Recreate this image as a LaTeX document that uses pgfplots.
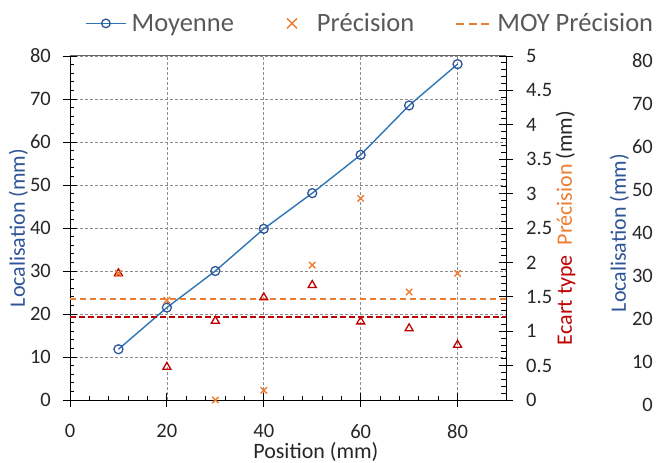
\documentclass[border=0pt]{standalone}
\usepackage{fontspec}
\setmainfont{Carlito}
\usepackage{pgfplots}
\usepackage{pgfplotstable}
\pgfplotsset{compat=1.18}
\definecolor{cblue}{HTML}{2E75B6}
\definecolor{cnavy}{HTML}{2F5597}
\definecolor{corange}{HTML}{ED7D31}
\definecolor{cred}{HTML}{C00000}
\definecolor{cgrid}{HTML}{8C8C8C}
\definecolor{ctext}{HTML}{595959}
\definecolor{ctick}{HTML}{262626}
\newcommand\tickfont{\fontsize{20.5bp}{24bp}\selectfont}
\newcommand\labfont{\fontsize{22bp}{26bp}\selectfont}
\newcommand\legfont{\fontsize{26.5bp}{30bp}\selectfont}

\pgfplotstableread{
x moy prec ect
10 11.8 1.84 1.84
20 21.5 1.45 0.48
30 30.0 0.00 1.15
40 39.8 0.14 1.49
50 48.1 1.96 1.67
60 57.0 2.93 1.14
70 68.5 1.57 1.04
80 78.1 1.84 0.80
}\data

\pgfplotsset{
  base/.style={
    width=436bp, height=344bp, scale only axis,
    xmin=0, xmax=90,
    /pgf/number format/assume math mode=true,
    tick align=inside,
    tick style={black, line width=0.8bp},
    minor tick length=4.5bp,
    major tick length=14bp,
    ticklabel style={font=\tickfont, text=ctick, inner sep=0pt},
  }
}

\begin{document}
\begin{tikzpicture}
\useasboundingbox (-70bp,-63bp) rectangle (589bp,400bp);
% Axis 1: Moyenne (left)
\begin{axis}[base,
  ymin=0, ymax=80,
  ytick={0,10,...,80},
  xtick={0,20,...,80},
  minor x tick num=4, minor y tick num=4,
  axis x line*=bottom, axis y line*=left,
  axis line style={black, line width=0.9bp},
  grid=major,
  major grid style={cgrid, dash pattern=on 3bp off 2bp, line width=0.6bp},
  major x tick style={yshift=-7bp},
  major y tick style={xshift=-7bp},
  yticklabel style={anchor=east, xshift=-19bp},
  xticklabel style={anchor=north, yshift=-24bp},
  every axis x label/.style={at={(rel axis cs:0.564,0)}, yshift=-58bp, anchor=base},
  xlabel={\labfont\color{ctick}Position (mm)},
  every axis y label/.style={at={(rel axis cs:0,0.5)}, xshift=-45bp, rotate=90, anchor=base},
  ylabel={\labfont\color{cnavy}Localisation (mm)},
]
\addplot[cblue, line width=1.4bp, mark=o, mark size=4.5bp,
  mark options={cnavy, line width=1.3bp}] table[x=x, y=moy] {\data};
\draw[black!60, line width=1bp] (rel axis cs:0,1) -- (rel axis cs:1,1);
\end{axis}
% Axis 2: Precision / Ecart type (right)
\begin{axis}[base,
  ymin=0, ymax=5,
  ytick={0,0.5,1,1.5,2,2.5,3,3.5,4,4.5,5},
  minor y tick num=4,
  axis x line=none, axis y line*=right,
  axis line style={black, line width=0.9bp},
  clip=false,
  major y tick style={xshift=7bp},
  yticklabel style={anchor=west, xshift=20bp},
  every axis y label/.style={at={(rel axis cs:1,0.5)}, xshift=66bp, rotate=90, anchor=base},
  ylabel={\labfont{\color{cred}Ecart type}\hspace{0.45em}{\color{corange}Précision} {\color{ctick}(mm)}},
  legend columns=3,
  legend style={at={(axis description cs:0.0344,1.124)}, anchor=north west,
    draw=none, fill=none, font=\legfont, text=ctext, inner sep=0pt,
    nodes={inner sep=0pt},
    /tikz/every odd column/.append style={column sep=5bp},
    /tikz/every even column/.append style={column sep=38bp}},
]
\addlegendimage{legend image code/.code={
  \path[draw=none, fill=none] (0bp,0bp) -- (40bp,0bp);
  \draw[cblue, line width=1.4bp] (0bp,0bp) -- (40bp,0bp);
  \draw[cnavy, line width=1.3bp] (20bp,0bp) circle (4.3bp);}}
\addlegendentry{Moyenne}
\addlegendimage{legend image code/.code={
  \path[draw=none, fill=none] (0bp,0bp) -- (40bp,0bp);
  \draw[corange, line width=1.4bp] (15bp,-5bp) -- (25bp,5bp) (15bp,5bp) -- (25bp,-5bp);}}
\addlegendentry{Précision}
\addlegendimage{legend image code/.code={
  \path[draw=none, fill=none] (0bp,0bp) -- (40bp,0bp);
  \fill[corange] (4bp,-0.7bp) rectangle (11bp,0.7bp);
  \fill[corange] (16.5bp,-0.7bp) rectangle (23.5bp,0.7bp);
  \fill[corange] (29bp,-0.7bp) rectangle (36bp,0.7bp);}}
\addlegendentry{MOY Précision}
\addplot[forget plot, corange, dash pattern=on 6bp off 4bp, line width=1.6bp] coordinates {(0,1.466) (90,1.466)};
\addplot[forget plot, cred, dash pattern=on 6bp off 3bp, line width=2bp] coordinates {(0,1.21) (90,1.21)};
\addplot[forget plot, only marks, mark=triangle, mark size=4.6bp, cred, mark options={line width=1.3bp}] table[x=x, y=ect] {\data};
\addplot[forget plot, only marks, mark=x, mark size=4.5bp, corange, mark options={line width=1.4bp}] table[x=x, y=prec] {\data};
\end{axis}
% Axis 3: second Localisation scale (far right)
\begin{axis}[base, at={(0bp,-5bp)},
  ymin=0, ymax=80,
  ytick={0,10,...,80},
  axis x line=none, axis y line*=right,
  axis line style={draw=none},
  tick style={draw=none},
  major tick length=0pt, minor tick length=0pt,
  yticklabel style={anchor=east, xshift=147bp},
  every axis y label/.style={at={(rel axis cs:1,0.5)}, xshift=120bp, rotate=90, anchor=base},
  ylabel={\labfont\color{cnavy}Localisation (mm)},
]
\addplot[draw=none, forget plot] table[x=x, y=moy] {\data};
\end{axis}
\end{tikzpicture}
\end{document}
